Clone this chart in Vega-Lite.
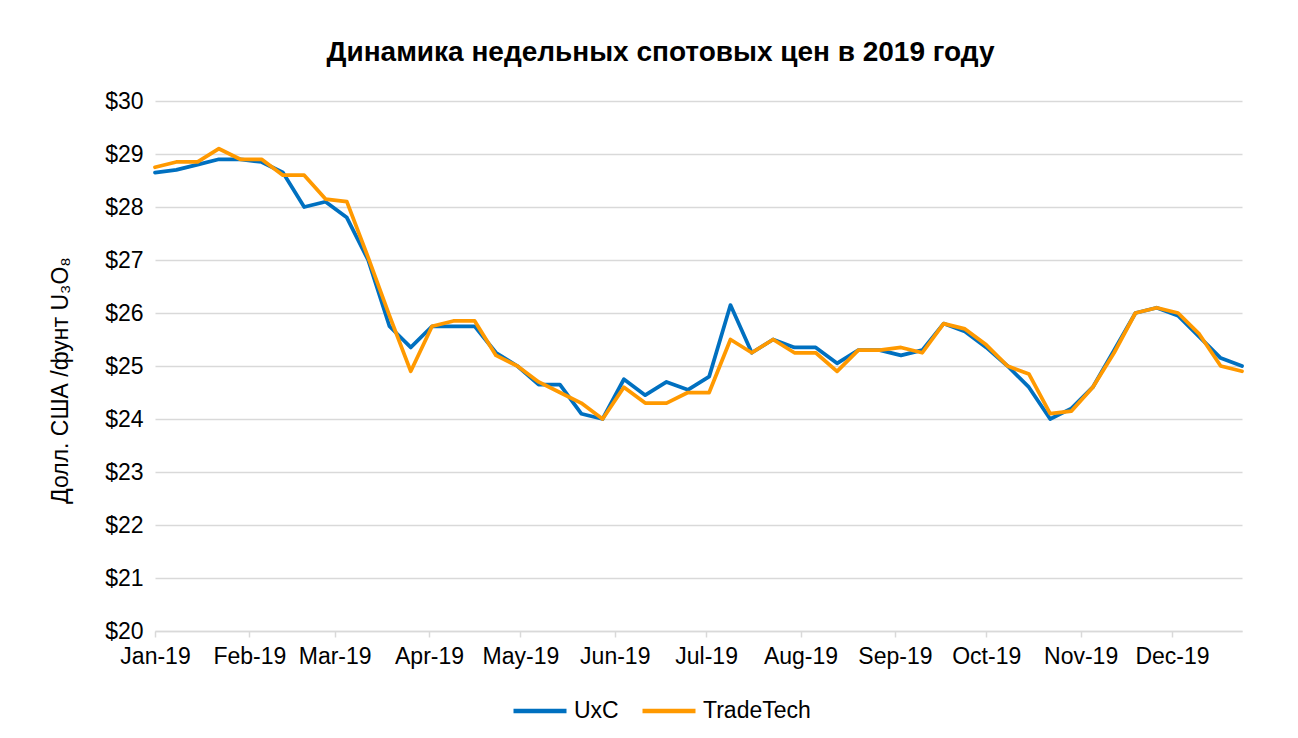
{
  "$schema": "https://vega.github.io/schema/vega-lite/v6.json",
  "width": 1087,
  "height": 530,
  "autosize": {"type": "none"},
  "padding": {"left": 155, "top": 101, "right": 56, "bottom": 107},
  "background": "white",
  "title": {
    "text": "Динамика недельных спотовых цен в 2019 году",
    "font": "Liberation Sans",
    "fontSize": 28,
    "fontWeight": "bold",
    "color": "#000000",
    "anchor": "middle",
    "dx": -38,
    "offset": 23
  },
  "datasets": {
    "prices": [
      {"date": "2019-01-01", "series": "UxC", "price": 28.65}, {"date": "2019-01-01", "series": "TradeTech", "price": 28.75},
      {"date": "2019-01-08", "series": "UxC", "price": 28.7}, {"date": "2019-01-08", "series": "TradeTech", "price": 28.85},
      {"date": "2019-01-15", "series": "UxC", "price": 28.8}, {"date": "2019-01-15", "series": "TradeTech", "price": 28.85},
      {"date": "2019-01-22", "series": "UxC", "price": 28.9}, {"date": "2019-01-22", "series": "TradeTech", "price": 29.1},
      {"date": "2019-01-29", "series": "UxC", "price": 28.9}, {"date": "2019-01-29", "series": "TradeTech", "price": 28.9},
      {"date": "2019-02-05", "series": "UxC", "price": 28.85}, {"date": "2019-02-05", "series": "TradeTech", "price": 28.9},
      {"date": "2019-02-12", "series": "UxC", "price": 28.65}, {"date": "2019-02-12", "series": "TradeTech", "price": 28.6},
      {"date": "2019-02-19", "series": "UxC", "price": 28.0}, {"date": "2019-02-19", "series": "TradeTech", "price": 28.6},
      {"date": "2019-02-26", "series": "UxC", "price": 28.1}, {"date": "2019-02-26", "series": "TradeTech", "price": 28.15},
      {"date": "2019-03-05", "series": "UxC", "price": 27.8}, {"date": "2019-03-05", "series": "TradeTech", "price": 28.1},
      {"date": "2019-03-12", "series": "UxC", "price": 27.0}, {"date": "2019-03-12", "series": "TradeTech", "price": 27.05},
      {"date": "2019-03-19", "series": "UxC", "price": 25.75}, {"date": "2019-03-19", "series": "TradeTech", "price": 25.95},
      {"date": "2019-03-26", "series": "UxC", "price": 25.35}, {"date": "2019-03-26", "series": "TradeTech", "price": 24.9},
      {"date": "2019-04-02", "series": "UxC", "price": 25.75}, {"date": "2019-04-02", "series": "TradeTech", "price": 25.75},
      {"date": "2019-04-09", "series": "UxC", "price": 25.75}, {"date": "2019-04-09", "series": "TradeTech", "price": 25.85},
      {"date": "2019-04-16", "series": "UxC", "price": 25.75}, {"date": "2019-04-16", "series": "TradeTech", "price": 25.85},
      {"date": "2019-04-23", "series": "UxC", "price": 25.25}, {"date": "2019-04-23", "series": "TradeTech", "price": 25.2},
      {"date": "2019-04-30", "series": "UxC", "price": 25.0}, {"date": "2019-04-30", "series": "TradeTech", "price": 25.0},
      {"date": "2019-05-07", "series": "UxC", "price": 24.65}, {"date": "2019-05-07", "series": "TradeTech", "price": 24.7},
      {"date": "2019-05-14", "series": "UxC", "price": 24.65}, {"date": "2019-05-14", "series": "TradeTech", "price": 24.5},
      {"date": "2019-05-21", "series": "UxC", "price": 24.1}, {"date": "2019-05-21", "series": "TradeTech", "price": 24.3},
      {"date": "2019-05-28", "series": "UxC", "price": 24.0}, {"date": "2019-05-28", "series": "TradeTech", "price": 24.0},
      {"date": "2019-06-04", "series": "UxC", "price": 24.75}, {"date": "2019-06-04", "series": "TradeTech", "price": 24.6},
      {"date": "2019-06-11", "series": "UxC", "price": 24.45}, {"date": "2019-06-11", "series": "TradeTech", "price": 24.3},
      {"date": "2019-06-18", "series": "UxC", "price": 24.7}, {"date": "2019-06-18", "series": "TradeTech", "price": 24.3},
      {"date": "2019-06-25", "series": "UxC", "price": 24.55}, {"date": "2019-06-25", "series": "TradeTech", "price": 24.5},
      {"date": "2019-07-02", "series": "UxC", "price": 24.8}, {"date": "2019-07-02", "series": "TradeTech", "price": 24.5},
      {"date": "2019-07-09", "series": "UxC", "price": 26.15}, {"date": "2019-07-09", "series": "TradeTech", "price": 25.5},
      {"date": "2019-07-16", "series": "UxC", "price": 25.25}, {"date": "2019-07-16", "series": "TradeTech", "price": 25.25},
      {"date": "2019-07-23", "series": "UxC", "price": 25.5}, {"date": "2019-07-23", "series": "TradeTech", "price": 25.5},
      {"date": "2019-07-30", "series": "UxC", "price": 25.35}, {"date": "2019-07-30", "series": "TradeTech", "price": 25.25},
      {"date": "2019-08-06", "series": "UxC", "price": 25.35}, {"date": "2019-08-06", "series": "TradeTech", "price": 25.25},
      {"date": "2019-08-13", "series": "UxC", "price": 25.05}, {"date": "2019-08-13", "series": "TradeTech", "price": 24.9},
      {"date": "2019-08-20", "series": "UxC", "price": 25.3}, {"date": "2019-08-20", "series": "TradeTech", "price": 25.3},
      {"date": "2019-08-27", "series": "UxC", "price": 25.3}, {"date": "2019-08-27", "series": "TradeTech", "price": 25.3},
      {"date": "2019-09-03", "series": "UxC", "price": 25.2}, {"date": "2019-09-03", "series": "TradeTech", "price": 25.35},
      {"date": "2019-09-10", "series": "UxC", "price": 25.3}, {"date": "2019-09-10", "series": "TradeTech", "price": 25.25},
      {"date": "2019-09-17", "series": "UxC", "price": 25.8}, {"date": "2019-09-17", "series": "TradeTech", "price": 25.8},
      {"date": "2019-09-24", "series": "UxC", "price": 25.65}, {"date": "2019-09-24", "series": "TradeTech", "price": 25.7},
      {"date": "2019-10-01", "series": "UxC", "price": 25.35}, {"date": "2019-10-01", "series": "TradeTech", "price": 25.4},
      {"date": "2019-10-08", "series": "UxC", "price": 25.0}, {"date": "2019-10-08", "series": "TradeTech", "price": 25.0},
      {"date": "2019-10-15", "series": "UxC", "price": 24.6}, {"date": "2019-10-15", "series": "TradeTech", "price": 24.85},
      {"date": "2019-10-22", "series": "UxC", "price": 24.0}, {"date": "2019-10-22", "series": "TradeTech", "price": 24.1},
      {"date": "2019-10-29", "series": "UxC", "price": 24.2}, {"date": "2019-10-29", "series": "TradeTech", "price": 24.15},
      {"date": "2019-11-05", "series": "UxC", "price": 24.6}, {"date": "2019-11-05", "series": "TradeTech", "price": 24.6},
      {"date": "2019-11-12", "series": "UxC", "price": 25.3}, {"date": "2019-11-12", "series": "TradeTech", "price": 25.25},
      {"date": "2019-11-19", "series": "UxC", "price": 26.0}, {"date": "2019-11-19", "series": "TradeTech", "price": 26.0},
      {"date": "2019-11-26", "series": "UxC", "price": 26.1}, {"date": "2019-11-26", "series": "TradeTech", "price": 26.1},
      {"date": "2019-12-03", "series": "UxC", "price": 25.95}, {"date": "2019-12-03", "series": "TradeTech", "price": 26.0},
      {"date": "2019-12-10", "series": "UxC", "price": 25.55}, {"date": "2019-12-10", "series": "TradeTech", "price": 25.6},
      {"date": "2019-12-17", "series": "UxC", "price": 25.15}, {"date": "2019-12-17", "series": "TradeTech", "price": 25.0},
      {"date": "2019-12-24", "series": "UxC", "price": 25.0}, {"date": "2019-12-24", "series": "TradeTech", "price": 24.9}
    ]
  },
  "data": {"name": "prices"},
  "encoding": {
    "x": {
      "field": "date",
      "type": "temporal",
      "scale": {
        "type": "utc",
        "domain": [
          {"year": 2019, "month": 1, "date": 1, "utc": true},
          {"year": 2019, "month": 12, "date": 24, "utc": true}
        ]
      },
      "axis": {
        "title": null,
        "format": "%b-%y",
        "tickCount": {"interval": "month", "step": 1},
        "labelFlush": false,
        "labelOverlap": false,
        "grid": false,
        "domainColor": "#d9d9d9",
        "domainWidth": 1.5,
        "tickColor": "#d9d9d9",
        "tickWidth": 1.5,
        "tickSize": 6,
        "labelFont": "Liberation Sans",
        "labelFontSize": 23,
        "labelColor": "#000000",
        "labelPadding": 8
      }
    },
    "y": {
      "field": "price",
      "type": "quantitative",
      "scale": {"domain": [20, 30], "nice": false, "zero": false},
      "axis": {
        "title": "Долл. США /фунт U₃O₈",
        "values": [20, 21, 22, 23, 24, 25, 26, 27, 28, 29, 30],
        "format": "$d",
        "domain": false,
        "ticks": false,
        "grid": true,
        "gridColor": "#d9d9d9",
        "gridWidth": 1.5,
        "labelFont": "Liberation Sans",
        "labelFontSize": 23,
        "labelColor": "#000000",
        "labelPadding": 12,
        "titleFont": "Liberation Sans",
        "titleFontSize": 23,
        "titleFontWeight": "normal",
        "titleColor": "#000000",
        "titlePadding": 32,
        "titleY": 279
      }
    },
    "color": {
      "field": "series",
      "type": "nominal",
      "scale": {"domain": ["UxC", "TradeTech"], "range": ["#0070C0", "#FF9900"]},
      "legend": {
        "title": null,
        "orient": "none",
        "legendX": 356,
        "legendY": 581,
        "direction": "horizontal",
        "padding": 0,
        "symbolType": "stroke",
        "symbolSize": 2809,
        "symbolStrokeWidth": 4.5,
        "labelFont": "Liberation Sans",
        "labelFontSize": 23,
        "labelColor": "#000000",
        "labelOffset": 5,
        "columnPadding": 14
      }
    }
  },
  "layer": [
    {
      "transform": [{"filter": "datum.series === 'UxC'"}],
      "mark": {"type": "line", "strokeWidth": 3.75, "strokeJoin": "round", "strokeCap": "round"}
    },
    {
      "transform": [{"filter": "datum.series === 'TradeTech'"}],
      "mark": {"type": "line", "strokeWidth": 3.75, "strokeJoin": "round", "strokeCap": "round"}
    }
  ],
  "config": {
    "view": {"stroke": null},
    "font": "Liberation Sans"
  }
}
